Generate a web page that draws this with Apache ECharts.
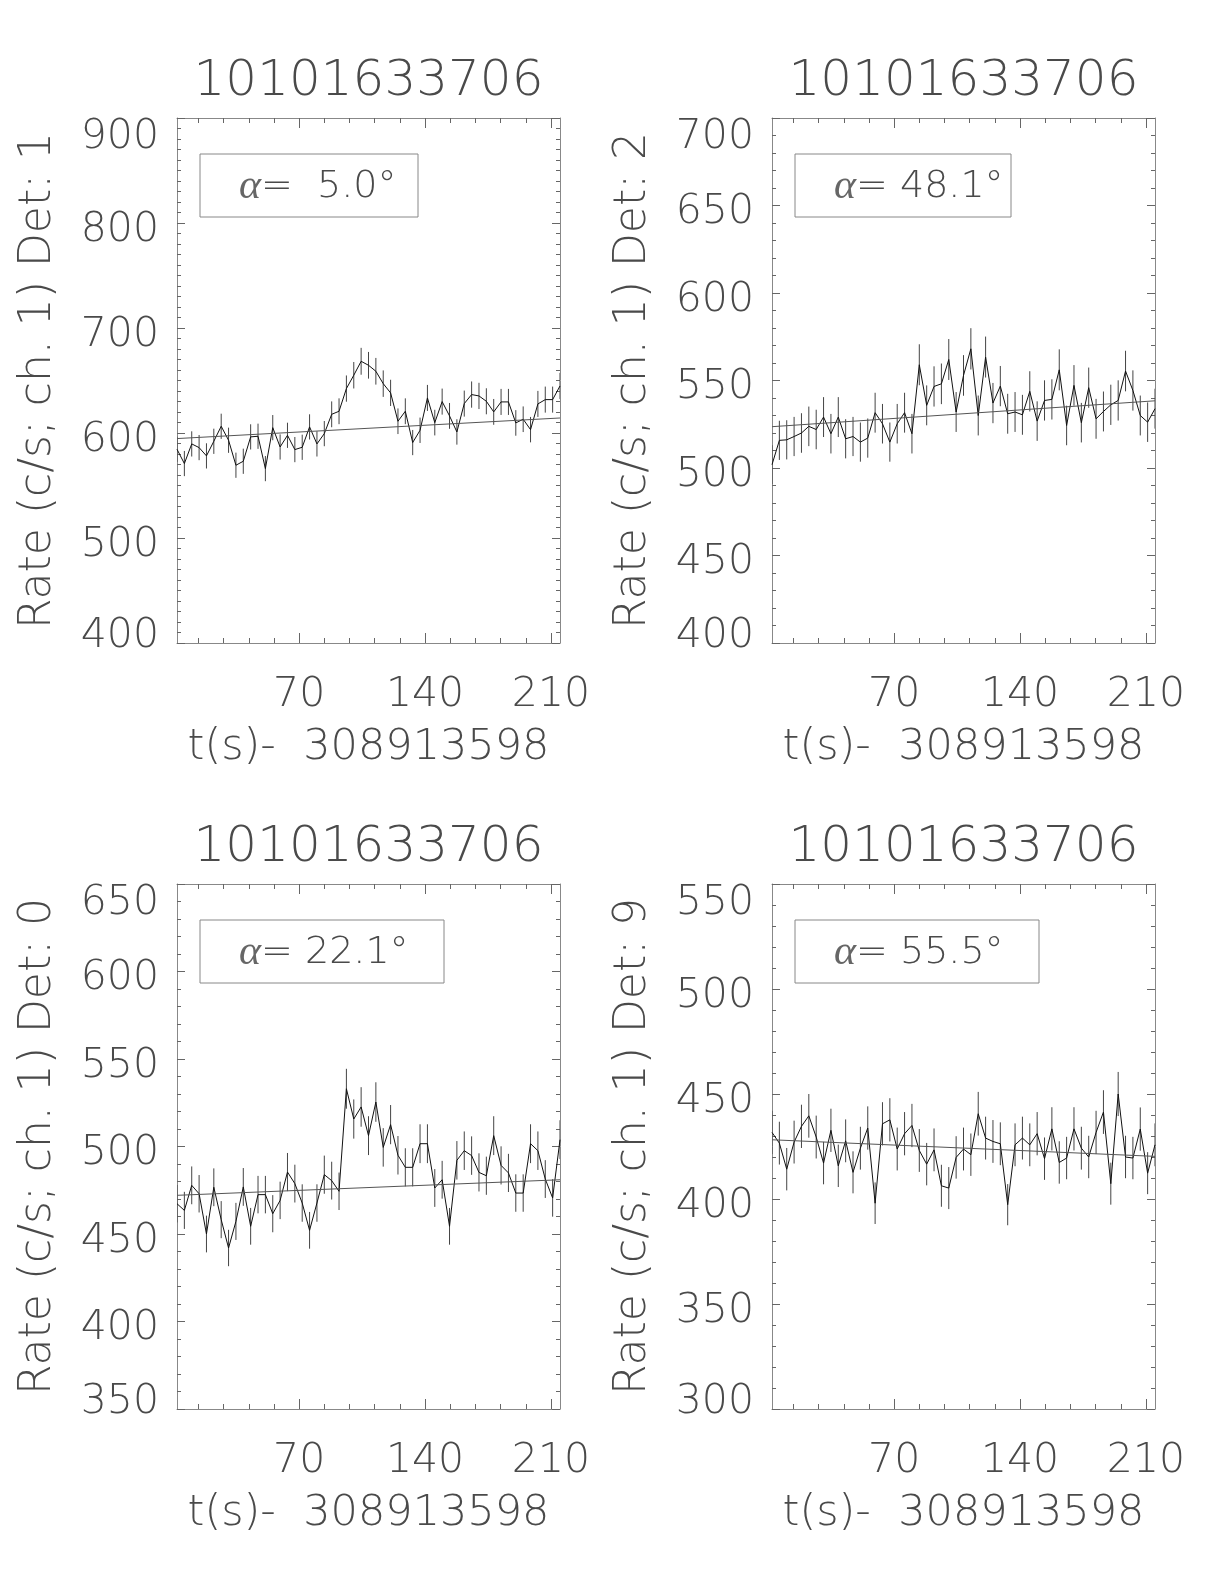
<!DOCTYPE html>
<html>
<head>
<meta charset="utf-8">
<script src="https://cdn.jsdelivr.net/npm/echarts/dist/echarts.min.js"></script>
<style>html,body{margin:0;padding:0;background:#fff;}#chart{width:1224px;height:1584px;}</style>
</head>
<body>
<div id="chart"></div>
<script>
// ---------------- data ----------------
const obsId = '10101633706';
const timeOffsetLabel = 't(s)-  308913598';
const times = [2.048, 6.144, 10.240, 14.336, 18.432, 22.528, 26.624, 30.720, 34.816, 38.912,
  43.008, 47.104, 51.200, 55.296, 59.392, 63.488, 67.584, 71.680, 75.776, 79.872,
  83.968, 88.064, 92.160, 96.256, 100.352, 104.448, 108.544, 112.640, 116.736, 120.832,
  124.928, 129.024, 133.120, 137.216, 141.312, 145.408, 149.504, 153.600, 157.696, 161.792,
  165.888, 169.984, 174.080, 178.176, 182.272, 186.368, 190.464, 194.560, 198.656, 202.752,
  206.848, 210.944, 215.040];
const xMajorTicks = [70, 140, 210];
const xMinorTicks = [14, 28, 42, 56, 84, 98, 112, 126, 154, 168, 182, 196];

// Det 1
const rateDet1 = [584.5,570.9,589.6,586.1,578.2,592.1,606.4,593.1,569.3,573.1,
  596.3,596.9,566.1,605.1,586.7,597.8,584.2,586.4,605.8,589.6,
  599.4,617.8,620.7,642.3,655.0,668.3,664.5,658.8,647.0,638.2,
  611.2,620.7,590.9,602.6,633.4,609.9,629.9,616.3,601.0,628.0,
  636.6,635.3,630.2,620.1,629.6,629.6,609.6,613.1,603.2,627.7,
  631.8,631.8,644.8];
const errDet1 = [12,12,12,12,12,12,12,12,12,12,
  12,12,12,12,12,12,12,12,12,12,
  12,12.3,12.3,12.5,12.6,12.8,12.7,12.7,12.6,12.5,
  12.2,12.3,12,12.1,12.4,12.2,12.4,12.3,12.1,12.4,
  12.5,12.5,12.4,12.3,12.4,12.4,12.2,12.2,12.1,12.4,
  12.4,12.4,12.5];
const fitDet1 = [594.7, 614.3];

// Det 2
const rateDet2 = [501.9,515.8,516.1,518.0,520.0,523.8,522.0,529.1,519.6,529.1,
  516.7,518.0,514.8,517.1,531.6,525.3,514.8,525.3,531.6,519.6,
  559.0,535.8,546.6,548.1,562.0,532.0,552.9,568.1,530.0,563.4,
  537.1,546.8,531.0,532.0,530.4,543.8,526.8,538.6,539.2,556.1,
  524.3,547.2,525.9,545.9,528.1,532.3,536.1,538.6,555.4,544.3,
  530.0,526.2,533.9];
const errDet2 = [11.1,11.2,11.2,11.2,11.3,11.3,11.3,11.4,11.3,11.4,
  11.2,11.2,11.2,11.2,11.4,11.3,11.2,11.3,11.4,11.3,
  11.7,11.4,11.5,11.6,11.7,11.4,11.6,11.8,11.4,11.7,
  11.5,11.5,11.4,11.4,11.4,11.5,11.3,11.5,11.5,11.7,
  11.3,11.6,11.3,11.5,11.4,11.4,11.5,11.5,11.6,11.5,
  11.4,11.3,11.4];
const fitDet2 = [523.6, 538.4];

// Det 0
const rateDet0 = [467.3,463.5,477.8,473.0,450.0,476.7,458.2,442.0,457.2,476.9,
  454.4,472.5,472.5,461.6,469.2,485.4,478.8,467.7,452.1,467.7,
  483.9,480.5,474.4,533.0,515.7,522.6,506.2,525.4,499.5,512.5,
  495.0,488.1,488.1,501.6,501.6,476.3,481.0,454.4,492.1,497.6,
  494.8,485.2,483.3,506.2,489.2,484.9,473.4,473.4,501.6,497.6,
  481.4,470.6,503.9];
const errDet0 = [10.7,10.6,10.8,10.7,10.5,10.8,10.6,10.4,10.6,10.8,
  10.5,10.7,10.7,10.6,10.7,10.9,10.8,10.7,10.5,10.7,
  10.9,10.8,10.7,11.4,11.2,11.3,11.1,11.3,11.0,11.2,
  11.0,10.9,10.9,11.1,11.1,10.8,10.8,10.5,11.0,11.0,
  11.0,10.9,10.9,11.1,10.9,10.9,10.7,10.7,11.1,11.0,
  10.8,10.7,11.1];
const fitDet0 = [472.1, 481.0];

// Det 9
const rateDet9 = [431.7,426.6,414.2,427.1,434.6,439.6,429.5,417.1,432.7,415.8,
  427.7,412.7,424.2,433.8,398.0,435.8,437.7,423.8,431.1,435.0,
  423.1,416.6,423.4,406.3,405.2,419.8,423.8,421.1,440.6,429.0,
  427.4,426.3,397.3,425.8,429.0,425.8,431.1,419.2,433.4,417.4,
  419.5,433.4,424.2,420.0,431.7,441.4,407.3,450.0,420.0,419.5,
  433.3,412.3,425.8];
const errDet9 = [10.3,10.2,10.1,10.2,10.3,10.4,10.2,10.1,10.3,10.1,
  10.2,10.0,10.2,10.3,9.9,10.3,10.3,10.2,10.3,10.3,
  10.2,10.1,10.2,10.0,10.0,10.1,10.2,10.1,10.4,10.2,
  10.2,10.2,9.8,10.2,10.2,10.2,10.3,10.1,10.3,10.1,
  10.1,10.3,10.2,10.1,10.3,10.4,10.0,10.5,10.1,10.1,
  10.3,10.0,10.2];
const fitDet9 = [428.2, 420.3];

const detNames = ['1', '2', '0', '9'];
const alphaLabels = [' 5.0', '48.1', '22.1', '55.5'];
const yRanges = [[400, 900, 100], [400, 700, 50], [350, 650, 50], [300, 550, 50]];

// ---------------- layout / style ----------------
const FONT = "'DejaVu Sans', sans-serif";
const FW = 200;
const TXT = '#4a4a4a';
const AXC = '#888';
const GW = 383, GH = 525;
const layout = [
  {left: 177, top: 118, minorSplit: 10, boxW: 218},
  {left: 772, top: 118, minorSplit: 5, boxW: 216},
  {left: 177, top: 884, minorSplit: 5, boxW: 244},
  {left: 772, top: 884, minorSplit: 5, boxW: 244}
];
const series4 = [
  {rate: rateDet1, err: errDet1, fit: fitDet1},
  {rate: rateDet2, err: errDet2, fit: fitDet2},
  {rate: rateDet0, err: errDet0, fit: fitDet0},
  {rate: rateDet9, err: errDet9, fit: fitDet9}
];

const grids = [], xAxes = [], yAxes = [], series = [], graphics = [];
const tStart = times[0], tEnd = times[times.length - 1];

layout.forEach((L, i) => {
  const [yMin, yMax, yStep] = yRanges[i];
  grids.push({left: L.left, top: L.top, width: GW, height: GH});
  const lineStyle = {color: AXC, width: 1};
  const tickStyle = {color: '#666', width: 1};
  const baseX = {gridIndex: i, type: 'value', min: tStart, max: tEnd, splitLine: {show: false}};
  xAxes.push(Object.assign({}, baseX, {
    position: 'bottom',
    axisLine: {show: true, onZero: false, lineStyle},
    axisTick: {show: true, inside: true, length: 10, customValues: xMajorTicks, lineStyle: tickStyle},
    axisLabel: {show: true, customValues: xMajorTicks, margin: 32, fontSize: 41, fontFamily: FONT, fontWeight: FW, color: TXT},
    name: timeOffsetLabel, nameLocation: 'middle', nameGap: 83,
    nameTextStyle: {fontSize: 43, fontFamily: FONT, fontWeight: FW, color: TXT}
  }));
  xAxes.push(Object.assign({}, baseX, {
    position: 'bottom',
    axisLine: {show: false, onZero: false},
    axisTick: {show: true, inside: true, length: 5, customValues: xMinorTicks, lineStyle: tickStyle},
    axisLabel: {show: false}
  }));
  xAxes.push(Object.assign({}, baseX, {
    position: 'top',
    axisLine: {show: true, onZero: false, lineStyle},
    axisTick: {show: true, inside: true, length: 10, customValues: xMajorTicks, lineStyle: tickStyle},
    axisLabel: {show: false}
  }));
  xAxes.push(Object.assign({}, baseX, {
    position: 'top',
    axisLine: {show: false, onZero: false},
    axisTick: {show: true, inside: true, length: 5, customValues: xMinorTicks, lineStyle: tickStyle},
    axisLabel: {show: false}
  }));
  const baseY = {gridIndex: i, type: 'value', min: yMin, max: yMax, interval: yStep,
    splitLine: {show: false}, minorSplitLine: {show: false}};
  const richBase = {fontSize: 41, fontFamily: FONT, fontWeight: FW, color: TXT};
  yAxes.push(Object.assign({}, baseY, {
    position: 'left',
    axisLine: {show: true, onZero: false, lineStyle},
    axisTick: {show: true, inside: true, length: 8, lineStyle: tickStyle},
    minorTick: {show: true, splitNumber: L.minorSplit, length: 4, lineStyle: tickStyle},
    axisLabel: {
      show: true, margin: 18, fontSize: 41, fontFamily: FONT, fontWeight: FW, color: TXT,
      formatter: v => v === yMax ? '{t|' + v + '}' : (v === yMin ? '{b|' + v + '}' : '{m|' + v + '}'),
      rich: {
        t: Object.assign({padding: [38, 0, 0, 0]}, richBase),
        b: Object.assign({padding: [0, 0, 14, 0]}, richBase),
        m: Object.assign({padding: [14, 0, 0, 0]}, richBase)
      }
    },
    name: 'Rate (c/s; ch. 1) Det: ' + detNames[i], nameLocation: 'middle', nameGap: 116,
    nameTextStyle: {fontSize: 44, fontFamily: FONT, fontWeight: FW, color: TXT}
  }));
  yAxes.push(Object.assign({}, baseY, {
    position: 'right',
    axisLine: {show: true, onZero: false, lineStyle},
    axisTick: {show: true, inside: true, length: 8, lineStyle: tickStyle},
    minorTick: {show: true, splitNumber: L.minorSplit, length: 4, lineStyle: tickStyle},
    axisLabel: {show: false}
  }));

  const S = series4[i];
  const xIdx = i * 4, yIdx = i * 2;
  series.push({
    type: 'custom', xAxisIndex: xIdx, yAxisIndex: yIdx, silent: true, clip: true,
    data: times.map((t, k) => [t, S.rate[k] - S.err[k], S.rate[k] + S.err[k]]),
    renderItem: (params, api) => {
      const p1 = api.coord([api.value(0), api.value(1)]);
      const p2 = api.coord([api.value(0), api.value(2)]);
      return {type: 'line', shape: {x1: p1[0], y1: p1[1], x2: p2[0], y2: p2[1]},
        style: {stroke: '#444', lineWidth: 1}};
    },
    z: 2
  });
  series.push({
    type: 'line', xAxisIndex: xIdx, yAxisIndex: yIdx, silent: true, clip: true,
    data: times.map((t, k) => [t, S.rate[k]]),
    showSymbol: false, symbol: 'none',
    lineStyle: {color: '#111', width: 1}, z: 3
  });
  series.push({
    type: 'line', xAxisIndex: xIdx, yAxisIndex: yIdx, silent: true, clip: true,
    data: [[tStart, S.fit[0]], [tEnd, S.fit[1]]],
    showSymbol: false, symbol: 'none',
    lineStyle: {color: '#555', width: 1}, z: 3
  });

  graphics.push({type: 'text', x: L.left + GW / 2, y: L.top - 36,
    style: {text: obsId, fill: TXT, font: FW + ' 50px ' + FONT, align: 'center', verticalAlign: 'middle'}});
  graphics.push({type: 'rect', shape: {x: L.left + 23, y: L.top + 36, width: L.boxW, height: 63},
    style: {fill: 'none', stroke: AXC, lineWidth: 1}});
  graphics.push({type: 'text', x: L.left + 62, y: L.top + 69,
    style: {text: '{a|α}{n|= ' + alphaLabels[i] + '°}', fill: TXT, align: 'left', verticalAlign: 'middle',
      rich: {
        a: {fontStyle: 'italic', fontSize: 42, fontFamily: "'Liberation Serif', serif", fontWeight: 'normal', fill: '#666'},
        n: {fontSize: 38, fontFamily: FONT, fontWeight: FW, fill: TXT}
      }}});
});

const chart = echarts.init(document.getElementById('chart'), null, {renderer: 'canvas'});
chart.setOption({
  backgroundColor: '#fff',
  animation: false,
  grid: grids,
  xAxis: xAxes,
  yAxis: yAxes,
  series: series,
  graphic: graphics
});
</script>
</body>
</html>
